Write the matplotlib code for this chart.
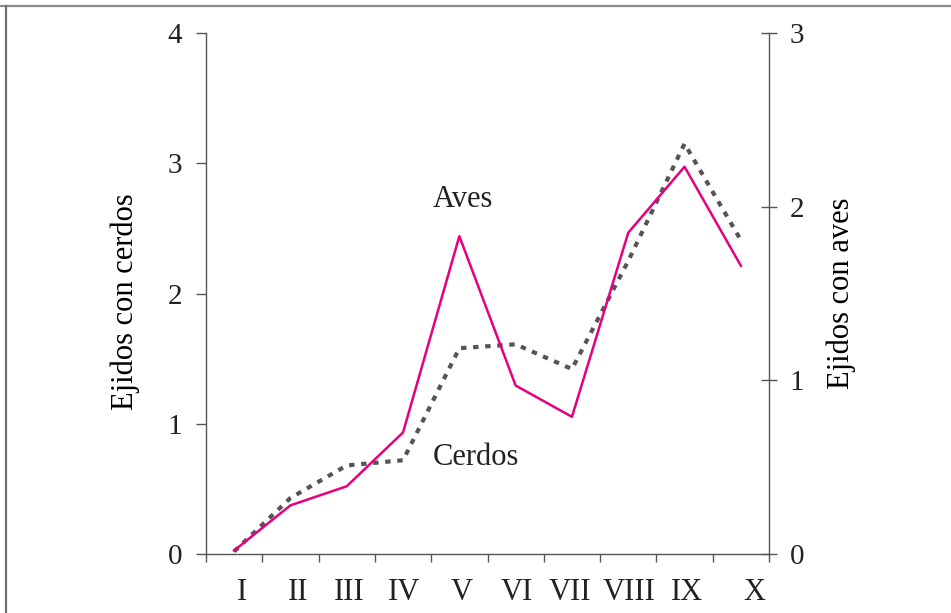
import matplotlib
matplotlib.use("Agg")
import matplotlib.pyplot as plt
from matplotlib.lines import Line2D
import numpy as np

categories = ["I", "II", "III", "IV", "V", "VI", "VII", "VIII", "IX", "X"]
cerdos = [0.02, 0.43, 0.68, 0.72, 1.58, 1.61, 1.42, 2.25, 3.15, 2.41]   # left axis
aves = [0.02, 0.28, 0.39, 0.70, 1.83, 0.97, 0.79, 1.85, 2.23, 1.66]      # right axis
left_ticks = [0, 1, 2, 3, 4]
right_ticks = [0, 1, 2, 3]

plt.rcParams['font.family'] = ['Liberation Serif', 'DejaVu Serif']

W, H = 951, 613
fig = plt.figure(figsize=(W / 100, H / 100), dpi=100)
fig.patch.set_facecolor('white')

# figure frame (top and left only)
fig.add_artist(Line2D([0, 1], [1 - 6 / H, 1 - 6 / H], transform=fig.transFigure,
                      color='#8c8c8c', lw=1.6))
fig.add_artist(Line2D([5.5 / W, 5.5 / W], [0, 1 - 6 / H], transform=fig.transFigure,
                      color='#6e6e6e', lw=1.6))

left, right = 206 / W, 769 / W
bottom, top = 1 - 554 / H, 1 - 33 / H
ax = fig.add_axes([left, bottom, right - left, top - bottom])
ax2 = ax.twinx()

n = len(categories)
x = np.arange(n) + 0.5

spine_col = '#555555'
for a in (ax, ax2):
    a.set_facecolor('none')
    a.spines['top'].set_visible(False)
    for s in ('left', 'right', 'bottom'):
        a.spines[s].set_color(spine_col)
        a.spines[s].set_linewidth(1.0)
ax.spines['right'].set_visible(False)
ax2.spines['left'].set_visible(False)
ax2.spines['bottom'].set_visible(False)

ax.set_xlim(0, n)
ax.set_ylim(0, 4)
ax2.set_ylim(0, 3)

# cerdos: dotted gray on left axis
ax.plot(x, cerdos, color='#555555', lw=3.0, linestyle=(0, (1.3, 1.6)),
        solid_capstyle='butt', dash_capstyle='butt', zorder=2)
# aves: magenta solid on right axis
ax2.plot(x, aves, color='#e6007e', lw=1.8, zorder=3)

# ticks
ax.set_yticks(left_ticks)
ax.set_yticklabels([str(t) for t in left_ticks], fontsize=21)
ax.tick_params(axis='y', direction='out', length=7, width=1.0, color=spine_col, pad=10)
ax2.set_yticks(right_ticks)
ax2.set_yticklabels([str(t) for t in right_ticks], fontsize=21)
ax2.tick_params(axis='y', direction='inout', length=12, width=1.0, color=spine_col, pad=9)

ax.set_xticks(np.arange(n + 1))
ax.set_xticklabels([])
ax.tick_params(axis='x', which='major', direction='out', length=6, width=1.0, color=spine_col)
# label positions, nudged as in the reference layout
label_nudge = [0.14, 0.14, 0.04, 0.02, 0.04, 0.02, -0.04, 0.02, 0.04, 0.24]
ax.set_xticks(x + np.array(label_nudge), minor=True)
ax.set_xticklabels(categories, minor=True, fontsize=22)
ax.tick_params(axis='x', which='minor', length=0, pad=17)

ax.set_ylabel("Ejidos con cerdos", fontsize=22)
ax2.set_ylabel("Ejidos con aves", fontsize=22, labelpad=16)
ax.yaxis.set_label_coords(-0.118, 0.485)

# series labels
ax.text(4.57, 2.72, "Aves", fontsize=22, ha='center', va='center', color='#222222')
ax.text(4.79, 0.74, "Cerdos", fontsize=22, ha='center', va='center', color='#222222')

for lab in ax.get_yticklabels() + ax2.get_yticklabels() + ax.get_xticklabels(minor=True):
    lab.set_color('#222222')

fig.savefig("out.png", dpi=100)
